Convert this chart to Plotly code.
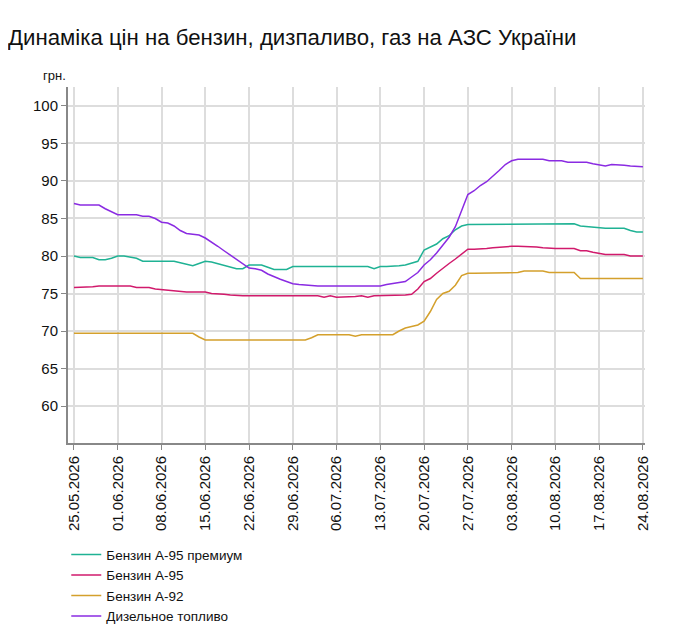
import plotly.graph_objects as go
import pandas as pd

# Дати: щоденно з 25.05.2026 по 24.08.2026
dates = pd.date_range("2026-05-25", "2026-08-24", freq="D")

# Ціни, грн.
a95_premium = [
    80.0, 79.8, 79.8, 79.8, 79.5, 79.5, 79.7, 80.0, 80.0, 79.9,
    79.7, 79.3, 79.3, 79.3, 79.3, 79.3, 79.3, 79.1, 78.9, 78.7,
    79.0, 79.3, 79.2, 79.0, 78.8, 78.6, 78.3, 78.3, 78.8, 78.8,
    78.8, 78.5, 78.2, 78.2, 78.2, 78.6, 78.6, 78.6, 78.6, 78.6,
    78.6, 78.6, 78.6, 78.6, 78.6, 78.6, 78.6, 78.6, 78.3, 78.6,
    78.6, 78.6, 78.7, 78.8, 79.0, 79.3, 80.8, 81.2, 81.6, 82.3,
    82.7, 83.5, 84.0, 84.2, 84.2, 84.2, 84.2, 84.3, 84.3, 84.3,
    84.3, 84.3, 84.3, 84.3, 84.3, 84.3, 84.3, 84.3, 84.3, 84.3,
    84.3, 84.0, 83.9, 83.8, 83.7, 83.7, 83.7, 83.7, 83.7, 83.4,
    83.2, 83.2,
]
a95 = [
    75.8, 75.8, 75.8, 75.9, 76.0, 76.0, 76.0, 76.0, 76.0, 76.0,
    75.8, 75.8, 75.8, 75.6, 75.5, 75.5, 75.3, 75.3, 75.2, 75.2,
    75.2, 75.2, 75.0, 75.0, 74.9, 74.8, 74.7, 74.7, 74.7, 74.7,
    74.7, 74.7, 74.7, 74.7, 74.7, 74.7, 74.7, 74.7, 74.7, 74.7,
    74.5, 74.7, 74.5, 74.5, 74.5, 74.6, 74.7, 74.5, 74.7, 74.7,
    74.7, 74.7, 74.8, 74.8, 74.9, 75.6, 76.6, 77.0, 77.7, 78.4,
    79.0, 79.6, 80.3, 80.9, 80.9, 80.9, 81.0, 81.1, 81.2, 81.3,
    81.3, 81.3, 81.3, 81.3, 81.2, 81.1, 81.0, 81.0, 81.0, 81.0,
    81.0, 80.7, 80.7, 80.5, 80.3, 80.2, 80.2, 80.2, 80.2, 80.0,
    80.0, 80.0,
]
a92 = [
    69.7, 69.7, 69.7, 69.7, 69.7, 69.7, 69.7, 69.7, 69.7, 69.7,
    69.7, 69.7, 69.7, 69.7, 69.7, 69.7, 69.7, 69.7, 69.7, 69.7,
    69.2, 68.8, 68.8, 68.8, 68.8, 68.8, 68.8, 68.8, 68.8, 68.8,
    68.8, 68.8, 68.8, 68.8, 68.8, 68.8, 68.8, 68.8, 69.1, 69.5,
    69.5, 69.5, 69.5, 69.5, 69.5, 69.3, 69.5, 69.5, 69.5, 69.5,
    69.5, 69.5, 70.0, 70.4, 70.6, 70.8, 71.3, 72.6, 74.2, 75.0,
    75.3, 76.1, 77.4, 77.7, 77.7, 77.7, 77.7, 77.7, 77.8, 77.8,
    77.8, 77.8, 78.0, 78.0, 78.0, 78.0, 77.8, 77.8, 77.8, 77.8,
    77.8, 77.0, 77.0, 77.0, 77.0, 77.0, 77.0, 77.0, 77.0, 77.0,
    77.0, 77.0,
]
diesel = [
    87.0, 86.8, 86.8, 86.8, 86.8, 86.3, 85.9, 85.5, 85.5, 85.5,
    85.5, 85.3, 85.3, 85.0, 84.5, 84.4, 84.0, 83.4, 83.0, 82.9,
    82.8, 82.4, 81.9, 81.3, 80.7, 80.1, 79.6, 79.0, 78.4, 78.3,
    78.1, 77.6, 77.2, 76.9, 76.6, 76.3, 76.2, 76.1, 76.0, 76.0,
    76.0, 76.0, 76.0, 76.0, 76.0, 76.0, 76.0, 76.0, 76.0, 76.0,
    76.2, 76.3, 76.4, 76.6, 77.2, 77.8, 78.8, 79.5, 80.4, 81.4,
    82.5, 83.9, 86.1, 88.2, 88.7, 89.4, 89.9, 90.6, 91.4, 92.2,
    92.7, 92.9, 92.9, 92.9, 92.9, 92.9, 92.7, 92.7, 92.7, 92.5,
    92.5, 92.5, 92.5, 92.3, 92.2, 92.0, 92.2, 92.2, 92.1, 92.0,
    91.9, 91.9,
]

series = [
    ("Бензин А-95 премиум", a95_premium, "#1fb294"),
    ("Бензин А-95", a95, "#d11a6c"),
    ("Бензин А-92", a92, "#d4a02c"),
    ("Дизельное топливо", diesel, "#8a2be2"),
]

fig = go.Figure()
for name, vals, color in series:
    fig.add_trace(go.Scatter(x=dates, y=vals, name=name, mode="lines",
                             line=dict(color=color, width=1.5)))

tick_dates = pd.date_range("2026-05-25", "2026-08-24", freq="7D")

# сторінка має відступ 8px, тому фігура трохи менша за вікно
fig.update_layout(
    width=679, height=619,
    margin=dict(l=60, r=42, t=79, b=184),
    paper_bgcolor="white", plot_bgcolor="white",
    font=dict(family="Liberation Sans, Arial, sans-serif", size=14, color="#111"),
    title=dict(text="Динаміка цін на бензин, дизпаливо, газ на АЗС України",
               xref="container", x=0, xanchor="left", y=0.952, yanchor="middle",
               font=dict(size=22.2, color="#111")),
    showlegend=True,
    legend=dict(orientation="v", xref="paper", x=-0.003, xanchor="left",
                yref="container", y=0.142, yanchor="top",
                font=dict(size=13.5), tracegroupgap=0, itemwidth=30,
                bgcolor="rgba(0,0,0,0)"),
    hovermode="x unified",
)
fig.update_xaxes(
    range=[pd.Timestamp("2026-05-25") - pd.Timedelta(hours=23),
           pd.Timestamp("2026-08-24") + pd.Timedelta(hours=8)],
    tickvals=tick_dates, ticktext=[d.strftime("%d.%m.%Y") for d in tick_dates],
    tickangle=-90, tickfont=dict(size=15),
    showgrid=True, gridcolor="#dddddd", gridwidth=1.5,
    showline=True, linecolor="#888888", linewidth=2,
    ticks="outside", ticklen=5, tickcolor="#888888",
    zeroline=False, automargin=False,
)
fig.update_yaxes(
    range=[55.07, 102.53],
    tickvals=[60, 65, 70, 75, 80, 85, 90, 95, 100],
    tickfont=dict(size=15),
    showgrid=True, gridcolor="#dddddd", gridwidth=1.5,
    showline=True, linecolor="#888888", linewidth=2,
    ticks="outside", ticklen=5, tickcolor="#888888",
    zeroline=False, automargin=False,
)
fig.add_annotation(text="грн.", xref="paper", yref="paper", x=0, y=1,
                   xanchor="right", yanchor="bottom", yshift=2, xshift=0,
                   showarrow=False, font=dict(size=13, color="#111"))

fig.write_html("out.html")
